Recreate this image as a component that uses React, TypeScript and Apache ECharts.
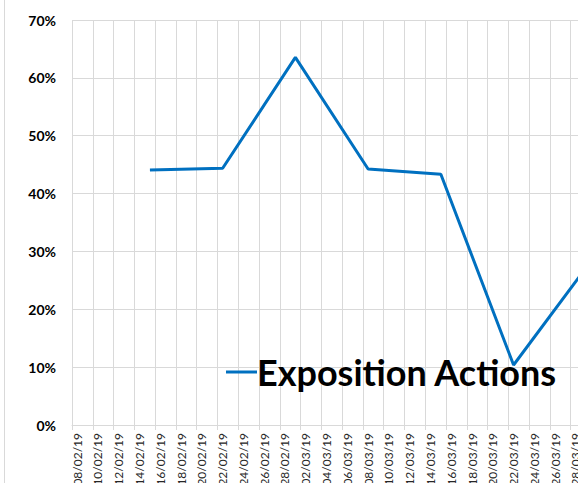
import React, { useEffect, useRef } from "react";
import * as echarts from "echarts";

// Axis: daily categories (labels shown every 2 days)
const startDate = "2019-02-08";
const endDate = "2019-03-31";

// Series: Exposition Actions (weekly readings)
const pointDates = ["15/02/19", "22/02/19", "01/03/19", "08/03/19", "15/03/19", "22/03/19", "29/03/19"];
const pointValues = [0.4407, 0.4437, 0.6355, 0.4424, 0.4333, 0.1037, 0.2726];

const yTicks = [0, 0.1, 0.2, 0.3, 0.4, 0.5, 0.6, 0.7];
const seriesName = "Exposition Actions";

function fmt(d: Date): string {
  const dd = String(d.getUTCDate()).padStart(2, "0");
  const mm = String(d.getUTCMonth() + 1).padStart(2, "0");
  const yy = String(d.getUTCFullYear()).slice(2);
  return `${dd}/${mm}/${yy}`;
}

function buildCategories(): string[] {
  const out: string[] = [];
  const s = new Date(startDate + "T00:00:00Z");
  const e = new Date(endDate + "T00:00:00Z");
  for (let t = s.getTime(); t <= e.getTime(); t += 86400000) out.push(fmt(new Date(t)));
  return out;
}

export default function App() {
  const ref = useRef<HTMLDivElement>(null);
  useEffect(() => {
    if (!ref.current) return;
    const chart = echarts.init(ref.current, undefined, { renderer: "svg" });
    const categories = buildCategories();
    const data = categories.map((c) => {
      const i = pointDates.indexOf(c);
      return i >= 0 ? pointValues[i] : null;
    });
    const dayW = 10.39;
    chart.setOption({
      animation: false,
      backgroundColor: "#ffffff",
      grid: {
        left: 72,
        top: 20,
        height: 405,
        width: dayW * categories.length,
        outerBoundsMode: "none",
        containLabel: false,
      },
      legend: {
        left: 226,
        top: 354,
        padding: 0,
        itemWidth: 31,
        itemHeight: 3,
        itemGap: 10,
        data: [{ name: seriesName, icon: "rect" }],
        textStyle: { fontFamily: "Lato", fontWeight: "bold", fontSize: 36, color: "#000000", padding: [0, 0, 0, -5] },
      },
      xAxis: {
        type: "category",
        data: categories,
        boundaryGap: true,
        axisLine: { lineStyle: { color: "#d9d9d9", width: 1 } },
        axisTick: { show: true, interval: 1, length: 5, lineStyle: { color: "#d9d9d9" } },
        splitLine: { show: true, interval: 1, lineStyle: { color: "#d9d9d9", width: 1 } },
        axisLabel: {
          interval: 1,
          rotate: 90,
          margin: 8,
          fontFamily: "Lato",
          fontSize: 12,
          color: "#262626",
        },
      },
      yAxis: {
        type: "value",
        min: yTicks[0],
        max: yTicks[yTicks.length - 1],
        interval: 0.1,
        axisLine: { show: false },
        axisTick: { show: false },
        splitLine: { lineStyle: { color: "#d9d9d9", width: 1 } },
        axisLabel: {
          margin: 16,
          fontFamily: "Lato",
          fontWeight: "bold",
          fontSize: 14,
          color: "#000000",
          formatter: (v: number) => `${Math.round(v * 100)}%`,
        },
      },
      graphic: [
        {
          type: "line",
          shape: { x1: 4.5, y1: 0, x2: 4.5, y2: 483 },
          style: { stroke: "#d9d9d9", lineWidth: 1 },
          silent: true,
        },
      ],
      series: [
        {
          name: seriesName,
          type: "line",
          data,
          connectNulls: true,
          symbol: "none",
          showSymbol: false,
          lineStyle: { color: "#0070c0", width: 3 },
          itemStyle: { color: "#0070c0" },
        },
      ],
    });
    return () => chart.dispose();
  }, []);
  return (
    <div
      ref={ref}
      style={{ position: "absolute", left: 0, top: 0, width: 578, height: 483 }}
    />
  );
}
